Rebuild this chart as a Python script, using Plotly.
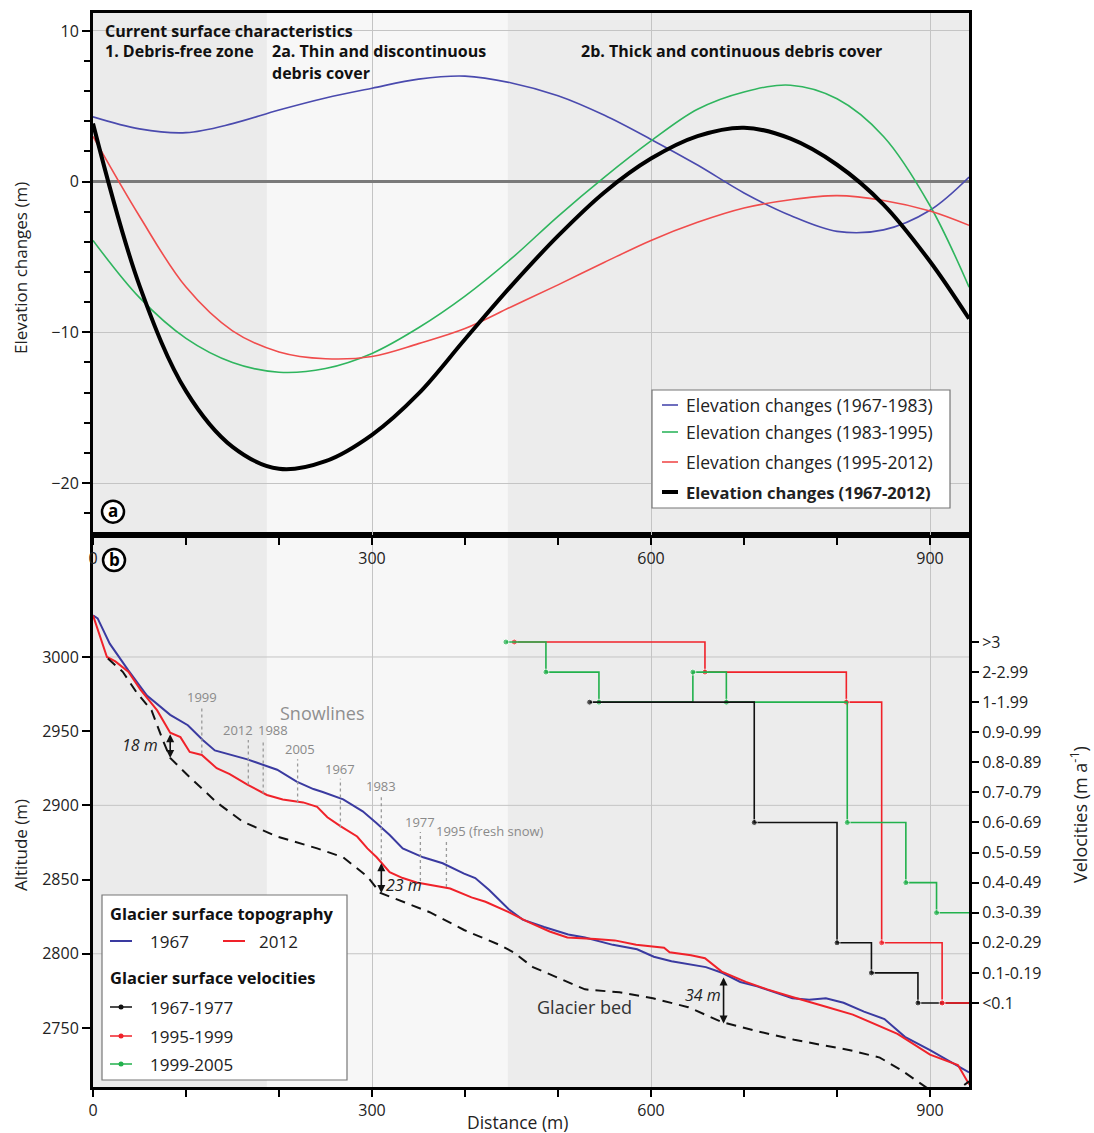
import plotly.graph_objects as go

# ---------------- Panel a: elevation changes ----------------
dist_a = [0, 50, 100, 150, 200, 250, 300, 350, 400, 450, 500, 550, 600, 650, 700, 750, 800, 850, 900, 942]
dz_1967_1983 = [4.3, 3.5, 3.25, 3.85, 4.75, 5.55, 6.2, 6.8, 7.0, 6.55, 5.7, 4.4, 2.8, 1.1, -0.75, -2.25, -3.3, -3.2, -1.9, 0.3]
dz_1983_1995 = [-3.9, -7.7, -10.4, -12.0, -12.65, -12.4, -11.4, -9.7, -7.6, -5.1, -2.3, 0.3, 2.7, 4.8, 5.95, 6.4, 5.5, 3.0, -1.6, -7.0]
dz_1995_2012 = [3.0, -2.3, -7.0, -9.9, -11.3, -11.75, -11.6, -10.75, -9.75, -8.3, -6.85, -5.35, -3.9, -2.7, -1.75, -1.2, -0.93, -1.25, -1.95, -2.9]
dz_1967_2012 = [3.85, -6.9, -13.9, -17.6, -19.06, -18.55, -16.8, -14.07, -10.46, -6.9, -3.6, -0.7, 1.53, 3.02, 3.58, 2.85, 1.12, -1.52, -5.3, -9.1]
series_a_names = ["Elevation changes (1967-1983)", "Elevation changes (1983-1995)",
                  "Elevation changes (1995-2012)", "Elevation changes (1967-2012)"]

# ---------------- Panel b: surface topography ----------------
dist_1967 = [0, 5, 18, 38, 58, 83, 102, 118, 131, 166, 198, 219, 237, 247, 269, 290, 305, 319, 333, 355, 376,
             399, 411, 426, 447, 462, 485, 511, 529, 559, 585, 603, 622, 659, 677, 696, 714, 752, 770, 788, 807,
             829, 851, 873, 900, 925, 942]
alt_1967 = [3028, 3026, 3009, 2991, 2974, 2961, 2954, 2944, 2937, 2931, 2924, 2916, 2911, 2909, 2904, 2896, 2888,
            2880, 2871, 2865, 2861, 2854, 2851, 2843, 2830, 2823, 2818, 2813, 2811, 2806, 2803, 2798, 2795, 2791,
            2787, 2781, 2778, 2770, 2769, 2770, 2767, 2761, 2756, 2744, 2735, 2726, 2720]
dist_2012 = [0, 15, 24, 38, 51, 69, 83, 94, 104, 117, 133, 147, 166, 187, 204, 226, 241, 252, 266, 284, 295, 305,
             319, 333, 348, 384, 407, 422, 447, 466, 491, 510, 540, 561, 584, 599, 614, 620, 643, 658, 676, 702,
             725, 751, 769, 790, 817, 843, 865, 900, 930, 942]
alt_2012 = [3028, 3000, 2997, 2990, 2978, 2964, 2949, 2946, 2936, 2934, 2925, 2921, 2914, 2907, 2904, 2902, 2899,
            2892, 2886, 2879, 2871, 2865, 2855, 2851, 2848, 2844, 2838, 2835, 2828, 2822, 2815, 2811, 2810, 2809,
            2806, 2805, 2804, 2801, 2799, 2797, 2788, 2781, 2776, 2771, 2768, 2764, 2759, 2752, 2746, 2732, 2725,
            2712]
dist_bed = [16, 32, 47, 63, 75, 83, 104, 133, 161, 198, 241, 269, 295, 309, 362, 399, 437, 452, 473, 510, 529,
            566, 602, 640, 676, 713, 754, 814, 846, 868, 889, 905, 925, 942]
alt_bed = [2999, 2990, 2976, 2964, 2944, 2932, 2919, 2902, 2889, 2879, 2871, 2865, 2852, 2841, 2828, 2816, 2806,
           2801, 2791, 2781, 2776, 2774, 2770, 2764, 2754, 2748, 2742, 2735, 2730, 2722, 2713, 2706, 2706, 2714]
alt_ticks = [2750, 2800, 2850, 2900, 2950, 3000]

# ---------------- Panel b: surface velocities (class index) ----------------
vel_labels = ["<0.1", "0.1-0.19", "0.2-0.29", "0.3-0.39", "0.4-0.49", "0.5-0.59", "0.6-0.69",
              "0.7-0.79", "0.8-0.89", "0.9-0.99", "1-1.99", "2-2.99", ">3"]
vel_1967_1977_x = [534, 711, 800, 837, 887, 942]
vel_1967_1977_y = [10, 6, 2, 1, 0, 0]
vel_1995_1999_x = [453, 658, 810, 848, 913, 942]
vel_1995_1999_y = [12, 11, 10, 2, 0, 0]
vel_1999_2005_x = [444, 487, 544, 645, 681, 811, 874, 907, 942]
vel_1999_2005_y = [12, 11, 10, 11, 10, 6, 4, 3, 3]

# ---------------- Snowlines & thickness annotations ----------------
snow_years = ["1999", "2012", "1988", "2005", "1967", "1983", "1977", "1995 (fresh snow)"]
snow_x = [117, 167, 183, 220, 266, 310, 352, 380]
snow_top = [2966, 2944, 2944, 2931, 2918, 2906, 2882, 2876]
snow_bottom = [2935, 2914, 2908, 2902, 2885, 2863, 2849, 2845]
snow_shift = [0, -10, 10, 2, 0, 0, 0, -12]

thick_labels = ["18 m", "23 m", "34 m"]
thick_x = [83, 310, 678]
thick_top = [2949, 2862, 2785]
thick_bottom = [2932, 2841, 2753]
thick_text_x = [50, 334, 656]
thick_text_y = [2941, 2846, 2772]

zones_x = [0, 187, 446, 942]
zone_colors = ["#ebebeb", "#f7f7f7", "#ececec"]

BLUE_A, GREEN_A, RED_A = "#4a4aae", "#2fb55e", "#f04c4c"
BLUE_B, RED_B, GREEN_B = "#3a3aa0", "#f0222a", "#22b14c"
FONT = "Open Sans, Noto Sans, sans-serif"

fig = go.Figure()

# panel a traces
for y, col, w in [(dz_1967_1983, BLUE_A, 1.6), (dz_1983_1995, GREEN_A, 1.6),
                  (dz_1995_2012, RED_A, 1.6), (dz_1967_2012, "black", 4)]:
    fig.add_trace(go.Scatter(x=dist_a, y=y, mode="lines", xaxis="x2", yaxis="y2",
                             line=dict(color=col, width=w, shape="spline", smoothing=1.0),
                             showlegend=False, hoverinfo="skip"))

# panel b surfaces
fig.add_trace(go.Scatter(x=dist_1967, y=alt_1967, mode="lines", line=dict(color=BLUE_B, width=2),
                         showlegend=False))
fig.add_trace(go.Scatter(x=dist_2012, y=alt_2012, mode="lines", line=dict(color=RED_B, width=2),
                         showlegend=False))
fig.add_trace(go.Scatter(x=dist_bed, y=alt_bed, mode="lines",
                         line=dict(color="#111111", width=2, dash="10px,7px"), showlegend=False))


def msizes(n):
    return [6] * (n - 1) + [0]


for xs, ys, col in [(vel_1995_1999_x, vel_1995_1999_y, RED_B),
                    (vel_1999_2005_x, vel_1999_2005_y, GREEN_B),
                    (vel_1967_1977_x, vel_1967_1977_y, "#111111")]:
    fig.add_trace(go.Scatter(x=xs, y=ys, mode="lines+markers", yaxis="y3",
                             line=dict(color=col, width=1.6, shape="hv"),
                             marker=dict(color=col, size=msizes(len(xs))), showlegend=False))
# red tail drawn on top of black
fig.add_trace(go.Scatter(x=vel_1995_1999_x[-2:], y=vel_1995_1999_y[-2:], mode="lines+markers", yaxis="y3",
                         line=dict(color=RED_B, width=1.6, shape="hv"),
                         marker=dict(color=RED_B, size=[6, 0]), showlegend=False))

shapes = []
annotations = []

# background zones
for yr in ["y domain", "y2 domain"]:
    xr = "x" if yr == "y domain" else "x2"
    for i in range(3):
        shapes.append(dict(type="rect", xref=xr, yref=yr, x0=zones_x[i], x1=zones_x[i + 1], y0=0, y1=1,
                           fillcolor=zone_colors[i], line=dict(width=0), layer="below"))
# altitude grid lines
for g in [2800, 2900, 3000]:
    shapes.append(dict(type="line", xref="x domain", yref="y", x0=0, x1=1, y0=g, y1=g,
                       line=dict(color="#c4c4c4", width=1), layer="below"))

# snowlines
for yr_, sx, st, sb, sh in zip(snow_years, snow_x, snow_top, snow_bottom, snow_shift):
    shapes.append(dict(type="line", xref="x", yref="y", x0=sx, x1=sx, y0=sb, y1=st,
                       line=dict(color="#9a9a9a", width=1.3, dash="dot")))
    annotations.append(dict(x=sx, y=st, xref="x", yref="y", text=yr_, showarrow=False,
                            xanchor="left" if "fresh" in yr_ else "center", yanchor="bottom",
                            xshift=sh, yshift=-1, font=dict(family=FONT, size=13, color="#8a8a8a")))
annotations.append(dict(x=247, y=2962, xref="x", yref="y", text="Snowlines", showarrow=False,
                        font=dict(family=FONT, size=18, color="#8f8f8f")))
annotations.append(dict(x=528, y=2764, xref="x", yref="y", text="Glacier bed", showarrow=False,
                        font=dict(family=FONT, size=18, color="#333333")))

# thickness arrows
for lab, tx, tt, tb, lx, ly in zip(thick_labels, thick_x, thick_top, thick_bottom, thick_text_x, thick_text_y):
    annotations.append(dict(x=tx, y=tb, ax=tx, ay=tt, xref="x", yref="y", axref="x", ayref="y",
                            text="", showarrow=True, arrowhead=2, arrowside="end+start",
                            arrowsize=1, arrowwidth=1.6, arrowcolor="#111111", standoff=0, startstandoff=0))
    annotations.append(dict(x=lx, y=ly, xref="x", yref="y", text="<i>" + lab + "</i>", showarrow=False,
                            font=dict(family=FONT, size=16, color="#222222")))

# panel a header texts
hdr = [("<b>Current surface characteristics</b>", 10.8, 10.0),
       ("<b>1. Debris-free zone</b>", 10.8, 8.7),
       ("<b>2a. Thin and discontinuous</b>", 190, 8.7),
       ("<b>debris cover</b>", 190, 7.2),
       ("<b>2b. Thick and continuous debris cover</b>", 523, 8.7)]
for t, x, y in hdr:
    annotations.append(dict(x=x, y=y, xref="x2", yref="y2", text=t, showarrow=False, xanchor="left",
                            yanchor="middle", font=dict(family=FONT, size=16, color="#111111")))

# circled panel letters
for lab, xr, yr, xa, ya in [("a", "x2", "y2", 21.5, -21.9), ("b", "x", "y", 22.6, 3065.3)]:
    shapes.append(dict(type="circle", xref=xr, yref=yr, xsizemode="pixel", ysizemode="pixel",
                       xanchor=xa, yanchor=ya, x0=-11, x1=11, y0=-11, y1=11,
                       line=dict(color="black", width=2.5), fillcolor="white"))
    annotations.append(dict(x=xa, y=ya, xref=xr, yref=yr, text="<b>" + lab + "</b>", showarrow=False,
                            font=dict(family=FONT, size=17, color="black"), yshift=1))


def px2paper(px, py):
    return (px - 93) / 876, (1087 - py) / 1074


# ---- legend panel a ----
x0, y0 = px2paper(652, 508)
x1, y1 = px2paper(950, 390)
shapes.append(dict(type="rect", xref="paper", yref="paper", x0=x0, x1=x1, y0=y0, y1=y1,
                   fillcolor="white", line=dict(color="#777777", width=1.2)))
rows_a = [405, 432, 462, 492]
for name, col, w, ry in zip(series_a_names, [BLUE_A, GREEN_A, RED_A, "black"], [1.6, 1.6, 1.6, 4], rows_a):
    lx0, ly = px2paper(662, ry)
    lx1, _ = px2paper(678, ry)
    shapes.append(dict(type="line", xref="paper", yref="paper", x0=lx0, x1=lx1, y0=ly, y1=ly,
                       line=dict(color=col, width=w)))
    tx, _ = px2paper(684, ry)
    txt = "<b>" + name + "</b>" if col == "black" else name
    annotations.append(dict(x=tx, y=ly, xref="paper", yref="paper", text=txt, showarrow=False,
                            xanchor="left", yanchor="middle",
                            font=dict(family=FONT, size=16.5 if col == "black" else 17.5, color="#222222")))

# ---- legend panel b ----
x0, y0 = px2paper(102, 1080)
x1, y1 = px2paper(347, 895)
shapes.append(dict(type="rect", xref="paper", yref="paper", x0=x0, x1=x1, y0=y0, y1=y1,
                   fillcolor="white", line=dict(color="#777777", width=1.2)))
for t, py in [("<b>Glacier surface topography</b>", 913), ("<b>Glacier surface velocities</b>", 977)]:
    tx, ty = px2paper(108, py)
    annotations.append(dict(x=tx, y=ty, xref="paper", yref="paper", text=t, showarrow=False,
                            xanchor="left", yanchor="middle", font=dict(family=FONT, size=16.5, color="#111111")))
for lab, col, lx0p, lx1p, txp in [("1967", BLUE_B, 110, 132, 148), ("2012", RED_B, 223, 245, 257)]:
    a, ly = px2paper(lx0p, 941)
    b, _ = px2paper(lx1p, 941)
    shapes.append(dict(type="line", xref="paper", yref="paper", x0=a, x1=b, y0=ly, y1=ly,
                       line=dict(color=col, width=2)))
    tx, _ = px2paper(txp, 941)
    annotations.append(dict(x=tx, y=ly, xref="paper", yref="paper", text=lab, showarrow=False,
                            xanchor="left", yanchor="middle", font=dict(family=FONT, size=17, color="#222222")))
for lab, col, py in [("1967-1977", "#111111", 1007), ("1995-1999", RED_B, 1036), ("1999-2005", GREEN_B, 1064)]:
    a, ly = px2paper(110, py)
    b, _ = px2paper(132, py)
    shapes.append(dict(type="line", xref="paper", yref="paper", x0=a, x1=b, y0=ly, y1=ly,
                       line=dict(color=col, width=1.5)))
    cx, _ = px2paper(121, py)
    shapes.append(dict(type="circle", xref="paper", yref="paper", xsizemode="pixel", ysizemode="pixel",
                       xanchor=cx, yanchor=ly, x0=-2.5, x1=2.5, y0=-2.5, y1=2.5,
                       fillcolor=col, line=dict(color=col, width=0)))
    tx, _ = px2paper(148, py)
    annotations.append(dict(x=tx, y=ly, xref="paper", yref="paper", text=lab, showarrow=False,
                            xanchor="left", yanchor="middle", font=dict(family=FONT, size=17, color="#222222")))

# axis titles
for t, px, py, ang, sz in [("Elevation changes (m)", 20, 268, -90, 17), ("Altitude (m)", 20, 845, -90, 17),
                           ("Distance (m)", 517, 1122, 0, 17.5), ("Velocities (m a<sup>-1</sup>)", 1079, 815, -90, 18)]:
    tx, ty = px2paper(px, py)
    annotations.append(dict(x=tx, y=ty, xref="paper", yref="paper", text=t, showarrow=False, textangle=ang,
                            xanchor="center", yanchor="middle", font=dict(family=FONT, size=sz, color="#222222")))

tickfont = dict(family=FONT, size=16, color="#222222")
split = (1087 - 535) / 1074

fig.update_layout(
    width=1094, height=1133, margin=dict(l=93, r=125, t=13, b=46),
    paper_bgcolor="white", plot_bgcolor="rgba(0,0,0,0)",
    font=dict(family=FONT),
    xaxis=dict(domain=[0, 1], anchor="y", range=[0, 941.9], tick0=0, dtick=300, ticks="outside", ticklen=7,
               tickwidth=1.5, tickcolor="black", minor=dict(dtick=100, tick0=0, ticks="outside", ticklen=7,
                                                             tickwidth=1.5, tickcolor="black", showgrid=False),
               showgrid=True, gridcolor="#c4c4c4", gridwidth=1, zeroline=False, showline=True, linewidth=3,
               linecolor="black", mirror=True, tickfont=tickfont, automargin=False),
    xaxis2=dict(domain=[0, 1], anchor="y2", range=[0, 941.9], tick0=0, dtick=300, ticks="outside", ticklen=7,
                tickwidth=1.5, tickcolor="black", minor=dict(dtick=100, tick0=0, ticks="outside", ticklen=7,
                                                              tickwidth=1.5, tickcolor="black", showgrid=False),
                showgrid=True, gridcolor="#c4c4c4", gridwidth=1, zeroline=False, showline=True, linewidth=3,
                linecolor="black", mirror=True, tickfont=tickfont, automargin=False),
    yaxis=dict(domain=[0, split], anchor="x", range=[2710.2, 3082.2], tickmode="array", tickvals=alt_ticks,
               ticks="outside", ticklen=8, tickwidth=1.5, tickcolor="black", showgrid=False, zeroline=False,
               showline=True, linewidth=3, linecolor="black", mirror=True, tickfont=tickfont, automargin=False),
    yaxis2=dict(domain=[split, 1], anchor="x2", range=[-23.45, 11.19], tick0=0, dtick=10, ticks="outside",
                ticklen=8, tickwidth=1.5, tickcolor="black",
                minor=dict(dtick=2, tick0=0, ticks="outside", ticklen=6, tickwidth=1.5, tickcolor="black",
                           showgrid=False),
                showgrid=True, gridcolor="#c4c4c4", gridwidth=1, zeroline=True, zerolinecolor="#7a7a7a",
                zerolinewidth=3, showline=True, linewidth=3, linecolor="black", mirror=True, tickfont=tickfont,
                automargin=False),
    yaxis3=dict(overlaying="y", anchor="x", side="right", range=[-2.793, 15.557],
                tickmode="array", tickvals=list(range(len(vel_labels))), ticktext=vel_labels,
                ticks="outside", ticklen=7, tickwidth=1.5, tickcolor="black", showgrid=False, zeroline=False,
                showline=True, linewidth=3, linecolor="black", tickfont=tickfont, automargin=False),
    shapes=shapes, annotations=annotations, showlegend=False,
)

fig.write_html("out.html", config={"displayModeBar": False},
               post_script="document.body.style.margin='0px';document.documentElement.style.overflow='hidden';")
